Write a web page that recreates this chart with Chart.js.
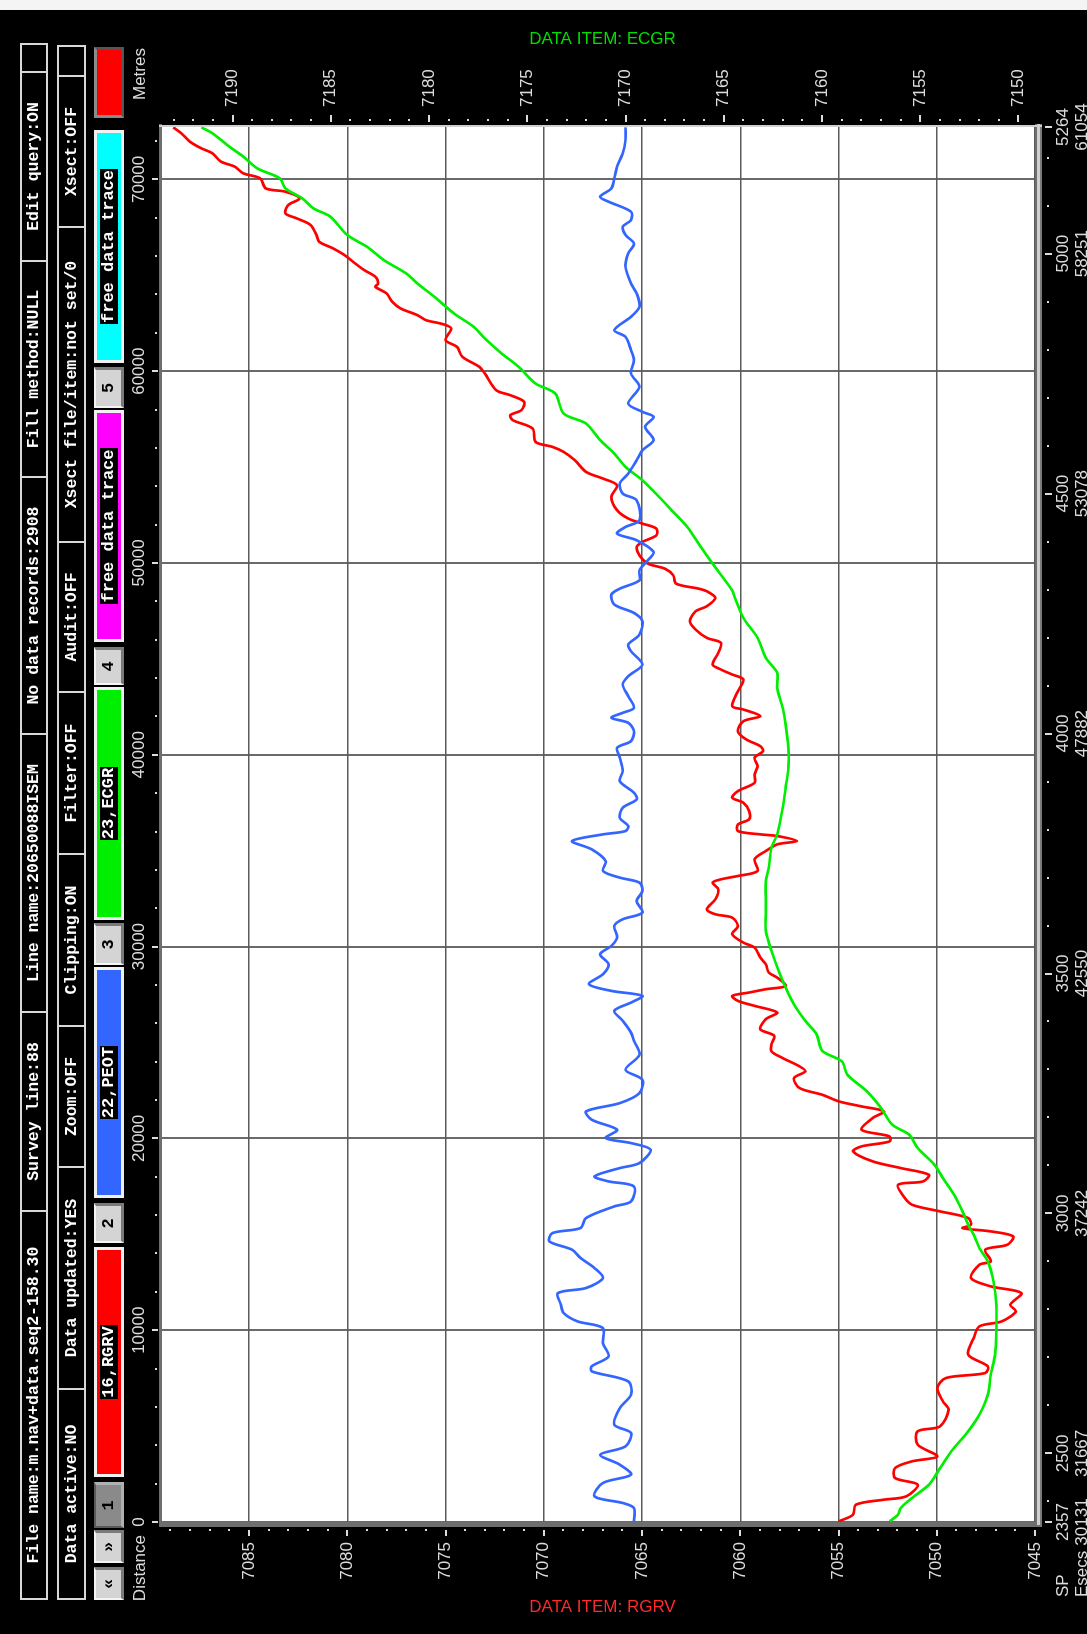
<!DOCTYPE html>
<html>
<head>
<meta charset="utf-8">
<script src="https://cdn.jsdelivr.net/npm/chart.js@4.4.1/dist/chart.umd.min.js"></script>
<style>
  html, body { margin: 0; padding: 0; background: #000; overflow: hidden; }
  body { width: 1087px; height: 1634px; position: relative; }
  /* the display is laid out landscape and turned a quarter turn */
  #screen { position: absolute; left: 0; top: 0; width: 1634px; height: 1087px; background: #000;
            transform-origin: 0 0; transform: translateY(1634px) rotate(-90deg); }
  #plot { position: absolute; left: 0; top: 0; }
  .cell { position: absolute; box-sizing: border-box; border: 2px solid #d8d8d8; color: #fff;
          font: bold 16.5px 'Liberation Mono', monospace; text-align: center; white-space: nowrap; overflow: hidden; }
  .btn { position: absolute; box-sizing: border-box; background: #d4d4d4; color: #000;
         border-top: 2px solid #f4f4f4; border-left: 2px solid #f4f4f4; border-right: 3px solid #7a7a7a; border-bottom: 3px solid #7a7a7a;
         font: bold 17px 'Liberation Mono', monospace; text-align: center; }
  .btn.down { background: #8a8a8a; border-top-color: #5a5a5a; border-left-color: #5a5a5a; border-right-color: #b0b0b0; border-bottom-color: #b0b0b0; }
  .swatch { position: absolute; box-sizing: border-box; border: 3px solid #f0f0f0; text-align: center; }
  .swatch span { display: inline-block; background: #000; color: #fff; font: bold 17px 'Liberation Mono', monospace;
                 line-height: 18px; padding: 0 1px; margin-top: 3px; }
  .end { border-color: #8a8a8a; border-right-color: #555; border-bottom-color: #555; }
  #edge { position: absolute; left: 1624px; top: 0; width: 10px; height: 1087px; background: #f4f4f4; }
</style>
</head>
<body>
<div id="screen">
  <canvas id="plot" width="1634" height="1087"></canvas>
  <div id="edge"></div>
</div>
<script>
// ---- series: [distance (m), value] ----
const rgrv = [[35,7054.98],[382,7054.26],[903,7054.12],[1164,7052.69],[1338,7051.55],[1946,7050.97],[2293,7052.12],[2815,7052.12],[3162,7051.26],[3423,7049.97],[4031,7050.97],[4726,7050.97],[4987,7049.83],[5856,7049.40],[6290,7049.69],[6985,7049.97],[7506,7049.54],[7767,7047.54],[8115,7047.40],[8723,7048.40],[9591,7048.12],[10200,7047.83],[10460,7046.69],[10981,7045.97],[11329,7046.26],[11937,7045.69],[12285,7047.25],[12719,7048.26],[13414,7047.83],[13588,7047.25],[14196,7047.54],[14457,7046.40],[14891,7046.11],[15152,7047.25],[15325,7048.69],[15499,7048.26],[15847,7048.40],[16194,7049.83],[16542,7051.26],[16976,7051.69],[17584,7051.97],[17758,7050.69],[18106,7050.40],[18453,7051.83],[18801,7053.26],[19322,7054.26],[19583,7053.83],[19843,7052.40],[20104,7052.40],[20451,7053.83],[21060,7053.26],[21407,7052.69],[21668,7053.83],[21928,7054.98],[22276,7055.83],[22623,7056.98],[23145,7057.27],[23492,7056.69],[23753,7056.98],[24187,7057.84],[24535,7058.41],
[24913,7058.41],[25347,7058.27],[25694,7058.98],[26215,7058.70],[26562,7058.12],[26910,7059.27],[27170,7060.12],[27430,7060.41],[27604,7059.55],[27778,7058.70],[27951,7057.69],[28385,7058.12],[28646,7058.55],[29080,7058.70],[29427,7058.98],[29948,7059.27],[30208,7059.84],[30642,7060.41],[31076,7060.12],[31510,7060.41],[31684,7061.27],[31945,7061.70],[32466,7061.27],[32986,7061.12],[33333,7061.41],[33507,7060.98],[33681,7060.12],[33941,7059.12],[34549,7059.27],[34983,7058.70],[35330,7058.12],[35503,7057.12],[35764,7058.12],[35851,7058.98],[36024,7060.12],[36371,7060.12],[36632,7059.55],[37066,7059.55],[37500,7059.84],[37760,7060.41],[38108,7060.12],[38541,7059.27],[38976,7059.27],[39410,7059.12],[39844,7059.27],[40191,7058.84],[40451,7058.98],[40799,7059.70],[41233,7060.12],[41753,7059.84],[42014,7058.98],[42360,7059.84],[42535,7060.41],[43314,7060.12],[43924,7059.84],[44184,7060.41],[44444,7060.98],[44705,7061.41],[45312,7061.12],[45833,7060.98],[46094,7061.70],[46528,7062.27],[46962,7062.56],[47483,7062.27],[47743,7061.70],[48177,7061.27],[48524,7061.70],
[48662,7062.12],[48922,7063.27],[49357,7063.41],[49705,7063.84],[49966,7064.70],[50401,7065.13],[50836,7065.27],[51097,7064.98],[51444,7064.27],[51792,7064.27],[52053,7064.98],[52314,7065.70],[52749,7066.27],[53444,7066.56],[54053,7066.27],[54401,7066.99],[54749,7067.85],[55357,7068.42],[55792,7068.99],[56053,7069.56],[56314,7070.42],[57009,7070.57],[57444,7071.57],[57705,7071.71],[57966,7071.14],[58400,7071.00],[58748,7071.71],[59009,7072.42],[59879,7073.00],[60227,7073.28],[60748,7074.14],[61270,7074.42],[61618,7075.00],[62227,7074.71],[62453,7075.14],[62661,7076.00],[62922,7076.43],[63270,7077.28],[63618,7077.71],[64053,7078.00],[64400,7078.57],[64574,7078.43],[64922,7078.57],[65270,7079.14],[65705,7079.71],[66053,7080.14],[66400,7080.72],[66748,7081.43],[67096,7081.57],[67618,7081.86],[67966,7082.57],[68226,7083.15],[68661,7083.00],[69009,7082.43],[69357,7083.15],[69531,7084.15],[70052,7084.43],[70313,7085.29],[70661,7085.72],[70922,7086.43],[71357,7086.86],[71618,7087.43],[71966,7088.01],[72400,7088.44],[72713,7088.86]];

const peot = [[35,7065.41],[730,7065.41],[990,7065.98],[1338,7067.42],[2033,7066.99],[2468,7065.56],[2989,7066.13],[3510,7067.13],[3944,7065.84],[4640,7065.56],[5074,7066.41],[5942,7066.13],[6637,7065.56],[7332,7065.70],[7854,7067.56],[8115,7067.56],[8636,7066.70],[9331,7066.99],[10113,7066.99],[10460,7068.28],[10895,7068.99],[11329,7069.13],[11937,7069.28],[12198,7067.85],[12719,7066.99],[13240,7067.42],[13762,7068.13],[14196,7068.56],[14630,7069.71],[15065,7069.56],[15325,7068.13],[15847,7067.85],[16455,7066.41],[16716,7065.56],[17498,7065.41],[17758,7066.70],[18019,7067.42],[18453,7066.13],[18714,7065.13],[19409,7064.56],[19756,7065.56],[20017,7066.85],[20451,7066.27],[20973,7067.56],[21407,7067.85],[21841,7066.13],[22363,7065.13],[23058,7064.98],[23579,7065.84],[24361,7065.13],
[25087,7065.41],[25520,7065.56],[26128,7065.98],[26649,7066.41],[27083,7065.56],[27430,7064.98],[27691,7066.56],[28038,7067.70],[28559,7066.99],[29080,7066.70],[29601,7067.13],[30035,7066.56],[30469,7066.27],[31076,7066.41],[31424,7065.98],[31771,7064.98],[32378,7065.27],[32899,7064.98],[33333,7065.13],[33594,7066.13],[33941,7066.99],[34462,7066.85],[35069,7067.56],[35503,7068.56],[35851,7066.99],[36024,7065.84],[36285,7065.70],[36719,7066.13],[37240,7065.98],[37674,7065.27],[38021,7065.41],[38628,7066.13],[39149,7065.98],[39844,7066.13],[40365,7066.27],[40712,7065.56],[41233,7065.41],[41666,7065.70],[41927,7066.56],[42188,7065.98],[42448,7065.41],[43055,7065.70],[43663,7065.98],[44097,7065.70],[44705,7064.98],[45399,7065.56],[45746,7065.70],[46267,7065.13],[46962,7064.98],[47396,7065.41],[47830,7066.41],[48351,7066.56],
[48662,7066.13],[49096,7065.13],[49618,7065.13],[50140,7064.70],[50575,7064.41],[51184,7065.27],[51531,7066.27],[51879,7065.84],[52227,7065.13],[53270,7065.27],[53618,7065.98],[54140,7066.13],[54662,7065.70],[55357,7065.27],[55879,7064.98],[56401,7064.41],[57096,7064.84],[57618,7064.41],[57879,7064.98],[58314,7065.70],[59183,7065.13],[59879,7065.56],[60574,7065.41],[61096,7065.56],[61792,7065.84],[62140,7066.41],[62835,7065.56],[63357,7065.13],[64053,7065.27],[64574,7065.56],[65444,7065.84],[66140,7065.70],[66661,7065.41],[67096,7065.84],[67531,7065.98],[67879,7065.56],[68313,7065.56],[68835,7066.70],[69096,7067.13],[69531,7066.56],[70052,7066.41],[70661,7066.27],[71357,7065.98],[72053,7065.84],[72713,7065.84]];

const ecgr = [[35,7156.56],[382,7156.13],[730,7155.99],[1251,7155.42],[1946,7154.56],[2815,7153.99],[3684,7153.42],[4726,7152.56],[5595,7151.99],[6637,7151.56],[7680,7151.41],[8723,7151.19],[9939,7151.13],[11329,7151.13],[12545,7151.27],[13588,7151.56],[14283,7151.99],[14978,7152.28],[15499,7152.56],[16194,7152.85],[17063,7153.28],[17932,7153.85],[18627,7154.28],[19496,7155.13],[20191,7155.56],[20712,7156.42],[21581,7156.99],[22450,7157.71],[23318,7158.71],[24013,7158.99],
[24566,7159.99],[25434,7160.28],[26128,7160.85],[26996,7161.43],[27865,7161.85],[28559,7162.14],[29774,7162.57],[30816,7162.86],[31684,7162.86],[32552,7162.86],[33420,7162.86],[34115,7162.71],[35156,7162.57],[35851,7162.28],[37240,7162.00],[38281,7161.85],[39323,7161.71],[40365,7161.71],[41579,7161.85],[42448,7162.00],[43489,7162.28],[44271,7162.28],[45052,7162.86],[46094,7163.28],[47135,7164.00],[48177,7164.43],
[48575,7164.57],[49966,7165.57],[51009,7166.28],[51879,7166.86],[52662,7167.57],[53444,7168.29],[54314,7169.14],[55010,7170.00],[55705,7170.57],[56401,7171.29],[57270,7172.01],[57792,7173.15],[58835,7173.58],[59357,7174.58],[60227,7175.44],[60922,7176.30],[61705,7177.16],[62314,7177.73],[63009,7178.73],[63879,7179.73],[64574,7180.59],[65096,7181.16],[65792,7182.30],[66487,7183.16],[67096,7184.16],[68053,7185.02],[68487,7185.88],[69009,7186.45],[69531,7187.31],[70052,7187.59],[70574,7188.74],[71183,7189.45],[71705,7190.16],[72400,7191.02],[72713,7191.59]];

// ---- axes ----
const distTicks = [0, 10000, 20000, 30000, 40000, 50000, 60000, 70000];
const rgrvTicks = [7045, 7050, 7055, 7060, 7065, 7070, 7075, 7080, 7085];
const ecgrTicks = [7150, 7155, 7160, 7165, 7170, 7175, 7180, 7185, 7190];
const spTicks = [2357, 2500, 3000, 3500, 4000, 4500, 5000, 5264];
const esecsTicks = [30131, 31667, 37242, 42550, 47882, 53078, 58251, 61054];
const distRange = [0, 72730];
const rgrvRange = [7045, 7089.43];
const ecgrRange = [7149.16, 7193.59];

// ---- header panel ----
const headerRow1 = [
  ['File name:m.nav+data.seq2-158.30', 34, 422], ['Survey line:88', 422, 621],
  ['Line name:20650088ISEM', 621, 899], ['No data records:2908', 899, 1156],
  ['Fill method:NULL', 1156, 1372], ['Edit query:ON', 1372, 1561], ['', 1561, 1589]
];
const headerRow2 = [
  ['Data active:NO', 34, 244], ['Data updated:YES', 244, 466], ['Zoom:OFF', 466, 607],
  ['Clipping:ON', 607, 779], ['Filter:OFF', 779, 941], ['Audit:OFF', 941, 1091],
  ['Xsect file/item:not set/0', 1091, 1406], ['Xsect:OFF', 1406, 1557], ['', 1557, 1587]
];
const screen = document.getElementById('screen');
function cell(text, x0, x1, y0, y1) {
  const d = document.createElement('div');
  d.className = 'cell';
  Object.assign(d.style, { left: x0 + 'px', top: y0 + 'px', width: (x1 - x0 + 2) + 'px', height: (y1 - y0) + 'px', lineHeight: (y1 - y0 - 4) + 'px' });
  d.textContent = text;
  screen.appendChild(d);
}
headerRow1.forEach(([t, a, b]) => cell(t, a, b, 20, 48));
headerRow2.forEach(([t, a, b]) => cell(t, a, b, 57, 86));

// trace selector strip
const strip = [
  { kind: 'btn', text: '«', x0: 34, x1: 67 },
  { kind: 'btn', text: '»', x0: 71, x1: 104 },
  { kind: 'btn', text: '1', x0: 106, x1: 152, down: true },
  { kind: 'sw', text: '16,RGRV', x0: 157, x1: 387, color: '#ff0000' },
  { kind: 'btn', text: '2', x0: 391, x1: 431 },
  { kind: 'sw', text: '22,PEOT', x0: 436, x1: 667, color: '#3366ff' },
  { kind: 'btn', text: '3', x0: 669, x1: 711 },
  { kind: 'sw', text: '23,ECGR', x0: 714, x1: 947, color: '#00ee00' },
  { kind: 'btn', text: '4', x0: 949, x1: 987 },
  { kind: 'sw', text: 'free data trace', x0: 992, x1: 1224, color: '#ff00ff' },
  { kind: 'btn', text: '5', x0: 1226, x1: 1267 },
  { kind: 'sw', text: 'free data trace', x0: 1271, x1: 1504, color: '#00ffff' },
  { kind: 'end', text: '', x0: 1516, x1: 1587, color: '#ff0000' }
];
strip.forEach(it => {
  const d = document.createElement('div');
  d.style.left = it.x0 + 'px'; d.style.top = '94px';
  d.style.width = (it.x1 - it.x0) + 'px'; d.style.height = '30px';
  if (it.kind === 'btn') {
    d.className = 'btn' + (it.down ? ' down' : '');
    d.style.lineHeight = '25px';
    d.textContent = it.text;
  } else {
    d.className = 'swatch' + (it.kind === 'end' ? ' end' : '');
    d.style.background = it.color;
    if (it.text) { const s = document.createElement('span'); s.textContent = it.text; d.appendChild(s); }
  }
  screen.appendChild(d);
});

// ---- chart ----
const inkColor = '#dcdcdc';
const tickFont = { family: 'Liberation Sans', size: 17 };

const panelMarks = {
  id: 'panelMarks',
  beforeDraw(chart) {
    const { ctx, chartArea: a } = chart;
    ctx.save();
    ctx.fillStyle = '#ffffff';
    ctx.fillRect(a.left, a.top, a.right - a.left, a.bottom - a.top);
    ctx.restore();
  },
  afterDatasetsDraw(chart) {
    const { ctx, chartArea: a } = chart;
    ctx.save();
    ctx.fillStyle = '#6e6e6e';
    ctx.fillRect(a.left - 5, a.top - 3, 5, a.bottom - a.top + 10);   // leading edge
    ctx.fillRect(a.left - 5, a.top - 3, a.right - a.left + 8, 3);    // upper edge
    ctx.fillRect(a.left - 5, a.bottom, a.right - a.left + 8, 2);     // lower edge, double rule
    ctx.fillStyle = '#d0d0d0';
    ctx.fillRect(a.left - 3, a.bottom + 2, a.right - a.left + 6, 3);
    ctx.fillStyle = '#7a7a7a';
    ctx.fillRect(a.left - 5, a.bottom + 5, a.right - a.left + 8, 2);
    ctx.fillStyle = '#cfcfcf';
    ctx.fillRect(a.right, a.top - 3, 2, a.bottom - a.top + 10);      // trailing edge
    ctx.restore();
  },
  afterDraw(chart) {
    const { ctx, chartArea: a, scales } = chart;
    const { x, y, y2, sp } = scales;
    ctx.save();
    ctx.fillStyle = inkColor;
    const dot = (px, py) => ctx.fillRect(Math.round(px) - 1, Math.round(py) - 1, 2, 2);
    // distance scale marks
    distTicks.forEach(v => ctx.fillRect(Math.round(x.getPixelForValue(v)) - 1, a.top - 10, 2, 6));
    for (let v = 2000; v < distRange[1]; v += 2000) if (v % 10000) dot(x.getPixelForValue(v), a.top - 6);
    // RGRV scale marks
    rgrvTicks.forEach(v => ctx.fillRect(a.left - 14, Math.round(y.getPixelForValue(v)) - 1, 6, 2));
    for (let v = 7046; v < rgrvRange[1]; v += 1) if (v % 5) dot(a.left - 8, y.getPixelForValue(v));
    // ECGR scale marks
    ecgrTicks.forEach(v => ctx.fillRect(a.right + 5, Math.round(y2.getPixelForValue(v)) - 1, 7, 2));
    for (let v = 7150; v < ecgrRange[1]; v += 1) if (v % 5) dot(a.right + 7, y2.getPixelForValue(v));
    // shot point / time scale
    spTicks.forEach(v => ctx.fillRect(Math.round(sp.getPixelForValue(v)) - 1, a.bottom + 10, 2, 7));
    for (let v = 2400; v < spTicks[spTicks.length - 1]; v += 100) if (v % 500) dot(sp.getPixelForValue(v), a.bottom + 13);
    ctx.font = "17px 'Liberation Sans'";
    ctx.textBaseline = 'middle';
    ctx.textAlign = 'center';
    spTicks.forEach((v, i) => {
      const px = sp.getPixelForValue(v);
      ctx.fillText(String(v), px, a.bottom + 28);
      ctx.fillText(String(esecsTicks[i]), px, a.bottom + 47);
    });
    ctx.textAlign = 'left';
    ctx.fillText('SP', 37, a.bottom + 28);
    ctx.fillText('Esecs', 37, a.bottom + 47);
    // axis captions
    ctx.textAlign = 'right';
    ctx.fillText('Distance', 99, 140);
    ctx.textAlign = 'left';
    ctx.fillText('Metres', 1534, 140);
    // data item captions along the value scales
    const mid = (a.top + a.bottom) / 2 + 4;
    [['DATA ITEM: RGRV', '#ff2a2a', 27], ['DATA ITEM: ECGR', '#00e000', 1595]].forEach(([t, c, cx]) => {
      ctx.save();
      ctx.translate(cx, mid);
      ctx.rotate(Math.PI / 2);
      ctx.fillStyle = c;
      ctx.textAlign = 'center';
      ctx.fillText(t, 0, 0);
      ctx.restore();
    });
    ctx.restore();
  }
};

const fixedTicks = list => scale => { scale.ticks = list.map(v => ({ value: v })); };
const plain = v => String(v);
const pts = arr => arr.map(([d, v]) => ({ x: d, y: v }));

new Chart(document.getElementById('plot'), {
  type: 'line',
  data: {
    datasets: [
      { label: '22,PEOT', data: pts(peot), borderColor: '#3366ff', yAxisID: 'y' },
      { label: '23,ECGR', data: pts(ecgr), borderColor: '#00ee00', yAxisID: 'y2' },
      { label: '16,RGRV', data: pts(rgrv), borderColor: '#ff0000', yAxisID: 'y' }
    ].map(ds => Object.assign(ds, { borderWidth: 2.7, pointRadius: 0, tension: 0.3, fill: false }))
  },
  options: {
    responsive: false,
    animation: false,
    events: [],
    layout: { padding: 0 },
    plugins: { legend: { display: false }, title: { display: false }, tooltip: { enabled: false } },
    scales: {
      x: {
        type: 'linear', position: 'top', min: distRange[0], max: distRange[1],
        afterBuildTicks: fixedTicks(distTicks), afterFit: s => { s.height = 162; },
        ticks: { color: inkColor, font: tickFont, padding: 12, maxRotation: 0, autoSkip: false, callback: plain },
        grid: { color: '#6a6a6a', lineWidth: 2, drawTicks: false },
        border: { display: false }
      },
      sp: {
        type: 'linear', position: 'bottom', min: spTicks[0], max: spTicks[spTicks.length - 1],
        afterBuildTicks: fixedTicks(spTicks), afterFit: s => { s.height = 52; },
        ticks: { display: false }, grid: { display: false }, border: { display: false }
      },
      y: {
        type: 'linear', position: 'left', min: rgrvRange[0], max: rgrvRange[1],
        afterBuildTicks: fixedTicks(rgrvTicks), afterFit: s => { s.width = 112; },
        ticks: { color: inkColor, font: tickFont, padding: 20, callback: plain },
        grid: { color: '#5a5a5a', lineWidth: 1.5, drawTicks: false },
        border: { display: false }
      },
      y2: {
        type: 'linear', position: 'right', min: ecgrRange[0], max: ecgrRange[1],
        afterBuildTicks: fixedTicks(ecgrTicks), afterFit: s => { s.width = 127; },
        ticks: { color: inkColor, font: tickFont, padding: 20, callback: plain },
        grid: { display: false, drawTicks: false },
        border: { display: false }
      }
    }
  },
  plugins: [panelMarks]
});
</script>
</body>
</html>
